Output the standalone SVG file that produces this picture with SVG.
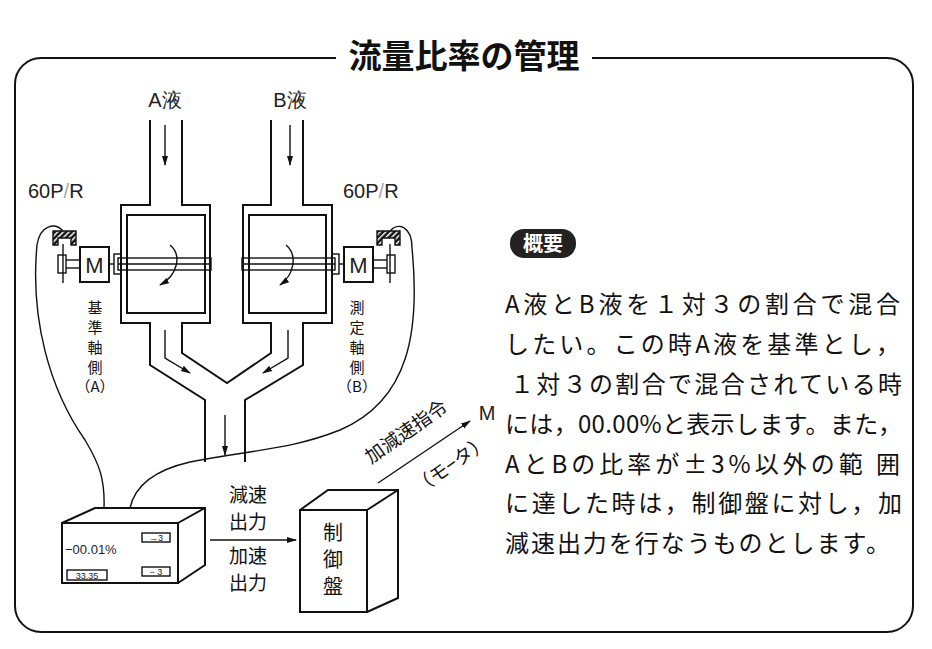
<svg xmlns="http://www.w3.org/2000/svg" width="932" height="649" viewBox="0 0 932 649">
<style>
.l{fill:none;stroke:#111;stroke-width:2}
.t{fill:none;stroke:#111;stroke-width:1.4}
.j{font-family:"Noto Sans CJK JP","Liberation Sans",sans-serif;fill:#111}
.s{font-family:"Liberation Sans",sans-serif;fill:#222}
</style>
<defs>
<marker id="ah" markerWidth="10" markerHeight="8" refX="9" refY="4" orient="auto" markerUnits="userSpaceOnUse"><path d="M0,1 L10,4 L0,7 Z" fill="#111"/></marker>
<pattern id="hat" width="4" height="4" patternUnits="userSpaceOnUse" patternTransform="rotate(45)"><rect width="4" height="4" fill="#111"/><rect width="1.5" height="4" fill="#fff"/></pattern>
</defs>
<rect width="932" height="649" fill="#fff"/>
<rect x="15" y="58" width="898" height="574" rx="26" class="l"/>
<rect x="336" y="40" width="256" height="30" fill="#fff"/>
<text x="464" y="68" text-anchor="middle" class="j" font-size="33" font-weight="bold">流量比率の管理</text>

<g id="pipes">
<path class="l" d="M150,120 V205 H121 V323 H150 V365 L205,400 V462"/>
<path class="l" d="M182,120 V205 H210 V323 H182 V353 L227,383 L271,353 V323 H243 V205 H271 V120"/>
<path class="l" d="M303,120 V205 H332 V323 H303 V365 L245,400 V462"/>
<rect x="127" y="215" width="78" height="98" class="l"/>
<rect x="249" y="215" width="77" height="98" class="l"/>
<path class="t" d="M165,125 V165" marker-end="url(#ah)"/>
<path class="t" d="M290,125 V165" marker-end="url(#ah)"/>
<path class="t" d="M165,330 V358 L190,373" marker-end="url(#ah)"/>
<path class="t" d="M288,330 V358 L263,373" marker-end="url(#ah)"/>
<path class="t" d="M225,415 V455" marker-end="url(#ah)"/>
</g>
<g id="shafts">
<rect x="118" y="258" width="93" height="12" class="t" fill="#fff"/>
<line x1="118" y1="264" x2="211" y2="264" class="t"/>
<rect x="242" y="258" width="93" height="12" class="t" fill="#fff"/>
<line x1="242" y1="264" x2="335" y2="264" class="t"/>
<rect x="114" y="254" width="7" height="20" class="t" fill="#fff"/>
<rect x="332" y="254" width="7" height="20" class="t" fill="#fff"/>
<path class="t" d="M170,245 C182,255 178,275 160,285" marker-end="url(#ah)"/>
<path class="t" d="M286,245 C298,255 294,275 280,285" marker-end="url(#ah)"/>
</g>
<g id="motorA">
<rect x="80" y="247" width="29" height="35" class="l" fill="#fff"/>
<text x="94.5" y="273" text-anchor="middle" class="s" font-size="22">M</text>
<line x1="109" y1="264" x2="114" y2="264" class="t"/>
<line x1="66" y1="260" x2="80" y2="260" class="t"/><line x1="66" y1="268" x2="80" y2="268" class="t"/>
<rect x="58" y="255" width="8" height="18" class="t" fill="#fff"/>
<line x1="63" y1="244" x2="63" y2="283" class="t"/>
<path d="M53,245 V231 H76 V245 H71 V238 H58 V245 Z" fill="url(#hat)" stroke="#111" stroke-width="1.4"/>
</g>
<g id="motorB">
<rect x="344" y="247" width="29" height="35" class="l" fill="#fff"/>
<text x="358.5" y="273" text-anchor="middle" class="s" font-size="22">M</text>
<line x1="339" y1="264" x2="344" y2="264" class="t"/>
<line x1="373" y1="260" x2="387" y2="260" class="t"/><line x1="373" y1="268" x2="387" y2="268" class="t"/>
<rect x="387" y="255" width="8" height="18" class="t" fill="#fff"/>
<line x1="390" y1="244" x2="390" y2="283" class="t"/>
<path d="M377,245 V231 H400 V245 H395 V238 H382 V245 Z" fill="url(#hat)" stroke="#111" stroke-width="1.4"/>
</g>
<g id="labels">
<text x="165" y="107" text-anchor="middle" class="s" font-size="20">A液</text>
<text x="290" y="107" text-anchor="middle" class="s" font-size="20">B液</text>
<text x="28" y="198" class="s" font-size="20">60P<tspan fill="#aaa">/</tspan>R</text>
<text x="343" y="198" class="s" font-size="20">60P<tspan fill="#aaa">/</tspan>R</text>
<g class="j" font-size="15" text-anchor="middle">
<text x="95" y="313">基</text><text x="95" y="333">準</text><text x="95" y="353">軸</text><text x="95" y="373">側</text><text x="95" y="392">（A）</text>
<text x="357" y="313">測</text><text x="357" y="333">定</text><text x="357" y="353">軸</text><text x="357" y="373">側</text><text x="357" y="392">（B）</text>
</g>
</g>
<g id="cables">
<path class="t" d="M63,231 C55,222 40,225 37,245 C30,320 50,390 85,440 C100,465 105,480 104,508"/>
<path class="t" d="M390,231 C398,222 412,226 412,248 C420,330 410,400 340,430 C290,450 250,450 190,462 C155,470 135,485 130,508"/>
</g>
<g id="meter">
<path class="l" d="M62,523 L95,508 H205 V565 L178,583 M178,523 L205,508" fill="#fff"/>
<rect x="62" y="523" width="116" height="60" class="l" fill="#fff"/>
<text x="65" y="554" class="s" font-size="13" fill="#777">−00.01%</text>
<rect x="142" y="533" width="28" height="9" class="t"/>
<text x="156" y="541" text-anchor="middle" class="s" font-size="9">→3</text>
<rect x="142" y="567" width="28" height="9" class="t"/>
<text x="156" y="575" text-anchor="middle" class="s" font-size="9">− 3</text>
<rect x="67" y="570" width="40" height="10" class="t"/>
<text x="87" y="579" text-anchor="middle" class="s" font-size="9">33.35</text>
</g>
<g id="panel">
<path class="l" d="M300,510 L328,490 H398 V598 L367,612 M367,510 L398,490" fill="#fff"/>
<rect x="300" y="510" width="67" height="102" class="l" fill="#fff"/>
<text x="333" y="540" text-anchor="middle" class="j" font-size="20">制</text>
<text x="333" y="567" text-anchor="middle" class="j" font-size="20">御</text>
<text x="333" y="594" text-anchor="middle" class="j" font-size="20">盤</text>
</g>
<g id="connectors">
<path class="t" d="M210,540 H296" marker-end="url(#ah)"/>
<path class="t" d="M378,483 L470,421" marker-end="url(#ah)"/>
</g>
<g class="j" font-size="19" text-anchor="middle">
<text x="248" y="502">減速</text><text x="248" y="529">出力</text>
<text x="248" y="563">加速</text><text x="248" y="590">出力</text>
<text transform="translate(410,437) rotate(-35)">加減速指令</text>
<text transform="translate(455,470) rotate(-35)">（モ−タ）</text>
<text x="487" y="420" class="s" font-size="20">M</text>
</g>
<g id="summary">
<rect x="510" y="229" width="66" height="29" rx="14" fill="#222"/>
<text x="543" y="251" text-anchor="middle" font-family="Noto Sans CJK JP,sans-serif" font-weight="bold" font-size="20" fill="#fff">概要</text>
<g class="j" font-size="24" fill="#222">
<text x="505" y="313" textLength="395" lengthAdjust="spacing">A液とB液を１対３の割合で混合</text>
<text x="505" y="353" textLength="395" lengthAdjust="spacing">したい。この時A液を基準とし，</text>
<text x="510" y="393" textLength="392" lengthAdjust="spacing">１対３の割合で混合されている時</text>
<text x="505" y="433" textLength="397" lengthAdjust="spacing">には，00.00%と表示します。また，</text>
<text x="505" y="473" textLength="395" lengthAdjust="spacing">AとBの比率が±3%以外の範 囲</text>
<text x="505" y="512" textLength="397" lengthAdjust="spacing">に達した時は，制御盤に対し，加</text>
<text x="505" y="552" textLength="385" lengthAdjust="spacing">減速出力を行なうものとします。</text>
</g>
</g>
</svg>
